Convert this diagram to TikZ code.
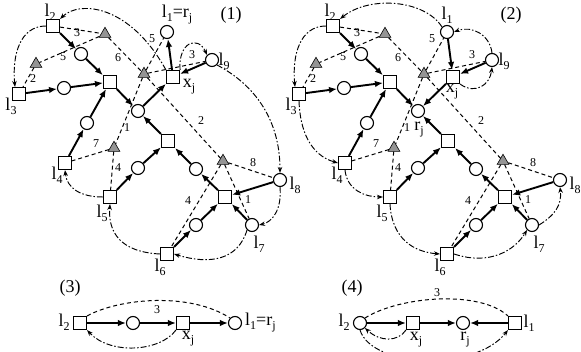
\documentclass[tikz,border=0pt]{standalone}
\usepackage{fontspec}
\setmainfont{Liberation Serif}
\usetikzlibrary{arrows.meta,shapes.geometric}
\newcommand\sbs[1]{\raisebox{-4pt}{\fontsize{12}{12}\selectfont #1}}
\tikzset{
 sq/.style={draw, rectangle, minimum size=13pt, inner sep=0pt, line width=1.1pt, fill=white},
 ci/.style={draw, circle, minimum size=13pt, inner sep=0pt, line width=1.1pt, fill=white},
 tri/.style={draw, regular polygon, regular polygon sides=3, minimum size=13.5pt, inner sep=0pt, fill=black!42, line width=0.6pt},
 thk/.style={line width=1.9pt, -{Latex[length=8pt,width=6.5pt]}},
 dsh/.style={line width=1pt, dash pattern=on 4pt off 3pt},
 dd/.style={line width=0.95pt, dash pattern=on 6pt off 2pt on 1.5pt off 2pt, -{Stealth[length=6pt,width=4.5pt]}},
 lab/.style={font=\fontsize{18}{18}\selectfont, inner sep=0pt},
 num/.style={font=\fontsize{12}{12}\selectfont, inner sep=0pt},
}
\newcommand\commonpart[1]{%
 \node[sq] (#1l2) at (53,26) {};
 \node[ci] (#1c1) at (81,54) {};
 \node[sq] (#1S0) at (110,82) {};
 \node[sq] (#1l3) at (19,94) {};
 \node[ci] (#1c2) at (64,88) {};
 \node[sq] (#1l4) at (65,163) {};
 \node[ci] (#1c3) at (87,123) {};
 \node[ci] (#1c4) at (138,111) {};
 \node[sq] (#1xj) at (173,77) {};
 \node[ci] (#1l1) at (167,32) {};
 \node[ci] (#1l9) at (212,60) {};
 \node[ci] (#1c5) at (138,168) {};
 \node[sq] (#1l5) at (110,197) {};
 \node[sq] (#1S1) at (168,141) {};
 \node[ci] (#1c6) at (196,169) {};
 \node[sq] (#1S2) at (225,197) {};
 \node[ci] (#1c7) at (196,225) {};
 \node[sq] (#1l6) at (167,254) {};
 \node[ci] (#1l7) at (252,225) {};
 \node[ci] (#1l8) at (280,180) {};
 \node[tri] (#1Ta) at (105,34) {};
 \node[tri] (#1Tb) at (36,64) {};
 \node[tri] (#1Tc) at (144,74) {};
 \node[tri] (#1Td) at (114,148) {};
 \node[tri] (#1Te) at (223,161) {};
 \draw[dsh] (#1l2) -- (#1Ta);
 \draw[dsh] (#1Ta) -- (#1Tb);
 \draw[dsh] (#1Tb) -- (#1l3);
 \draw[dsh] (#1Ta) -- (#1Tc);
 \draw[dsh] (#1Tc) -- (#1l1);
 \draw[dsh] (#1Tc) -- (#1l9);
 \draw[dsh] (#1Tc) -- (#1Td);
 \draw[dsh] (#1Tc) -- (#1Te);
 \draw[dsh] (#1Td) -- (#1l4);
 \draw[dsh] (#1Td) -- (#1l5);
 \draw[dsh] (#1Te) -- (#1l8);
 \draw[dsh] (#1Te) -- (#1l6);
 \draw[dsh] (#1Te) -- (#1l7);
 \draw[thk] (#1l2) -- (#1c1);
 \draw[thk] (#1c1) -- (#1S0);
 \draw[thk] (#1l3) -- (#1c2);
 \draw[thk] (#1c2) -- (#1S0);
 \draw[thk] (#1l4) -- (#1c3);
 \draw[thk] (#1c3) -- (#1S0);
 \draw[thk] (#1S0) -- (#1c4);
 \draw[thk] (#1l9) -- (#1xj);
 \draw[thk] (#1l5) -- (#1c5);
 \draw[thk] (#1c5) -- (#1S1);
 \draw[thk] (#1S1) -- (#1c4);
 \draw[thk] (#1S2) -- (#1c6);
 \draw[thk] (#1c6) -- (#1S1);
 \draw[thk] (#1c7) -- (#1S2);
 \draw[thk] (#1l6) -- (#1c7);
 \draw[thk] (#1l7) -- (#1S2);
 \draw[thk] (#1l8) -- (#1S2);
 \node[num] (#1n1) at (77,33) {3};
 \node[num] (#1n2) at (63,57) {5};
 \node[num] (#1n3) at (118,58) {6};
 \node[num] (#1n4) at (33,79) {2};
 \node[num] (#1n5) at (152,39) {5};
 \node[num] (#1n6) at (192,55) {3};
 \node[num] (#1n7) at (127,128) {1};
 \node[num] (#1n8) at (201,121) {2};
 \node[num] (#1n9) at (96,144) {7};
 \node[num] (#1n10) at (118,168) {4};
 \node[num] (#1n11) at (253,163) {8};
 \node[num] (#1n12) at (188,201) {4};
 \node[num] (#1n13) at (248,200) {1};
 \node[lab] (#1t2) at (50,12) {l\sbs{2}};
 \node[lab] (#1t3) at (11,106) {l\sbs{3}};
 \node[lab] (#1t4) at (57,175) {l\sbs{4}};
 \node[lab] (#1t5) at (102,213) {l\sbs{5}};
 \node[lab] (#1t6) at (160,267) {l\sbs{6}};
 \node[lab] (#1t7) at (259,244) {l\sbs{7}};
 \node[lab] (#1t8) at (295,185) {l\sbs{8}};
 \node[lab] (#1t9) at (224,61) {l\sbs{9}};
}
\begin{document}
\begin{tikzpicture}[x=1pt,y=-1pt]
\useasboundingbox (0,0) rectangle (581,352);
% ---------- (1)
\commonpart{A}
\draw[thk] (Ac4) -- (Axj);
\draw[thk] (Axj) -- (Al1);
\node[lab] (Atxj) at (189,87) {x\sbs{j}};
\node[lab] (Atl1) at (177,15) {l\sbs{1}=r\sbs{j}};
\node[lab] (Atit) at (231,15) {(1)};
\draw[dd] (Axj.north west) .. controls (130,5) and (80,0) .. (Al2.north east);
\draw[dd] (Al2.west) .. controls (20,26) and (12,55) .. ([xshift=-4]Al3.north);
\draw[dd] (Axj.north east) .. controls (178,42) and (198,35) .. (Al9.north west);
\draw[dd] (Al9.south east) .. controls (255,85) and (280,120) .. (Al8.north);
\draw[dd] (Al8.south) .. controls (282,210) and (272,222) .. (Al7.east);
\draw[dd] (Al7.south west) .. controls (238,260) and (210,265) .. (Al6.east);
\draw[dd] (Al6.west) .. controls (120,252) and (108,232) .. (Al5.south);
\draw[dd] (Al5.west) .. controls (80,197) and (67,188) .. (Al4.south);
% ---------- (2)
\begin{scope}[xshift=280pt]
\commonpart{B}
\draw[thk] (Bxj) -- (Bc4);
\draw[thk] (Bl1) -- (Bxj);
\node[lab] (Btxj) at (172,92) {x\sbs{j}};
\node[lab] (Btl1) at (167,15) {l\sbs{1}};
\node[lab] (Btrj) at (139,130) {r\sbs{j}};
\node[lab] (Btit) at (231,15) {(2)};
\end{scope}
\draw[dd] (Bl1.north west) .. controls (425,0) and (370,-5) .. (Bl2.north east);
\draw[dd] (Bl2.west) .. controls (300,26) and (292,55) .. ([xshift=-4]Bl3.north);
\draw[dd] (Bl3.south) .. controls (300,130) and (310,155) .. (Bl4.west);
\draw[dd] (Bl4.south) .. controls (347,190) and (365,197) .. (Bl5.west);
\draw[dd] (Bl5.south) .. controls (392,240) and (415,252) .. (Bl6.west);
\draw[dd] (Bl6.east) .. controls (490,266) and (515,250) .. (Bl7.south west);
\draw[dd] (Bl7.east) .. controls (555,215) and (562,205) .. (Bl8.south);
\draw[dd] (Bxj.south east) .. controls (475,95) and (490,85) .. (Bl9.south);
\draw[dd] (Bl9.north) .. controls (490,35) and (472,25) .. (Bl1.east);
% ---------- (3)
\node[sq] (Cl2) at (80,323) {};
\node[ci] (Cc) at (133,323) {};
\node[sq] (Cxj) at (183,323) {};
\node[ci] (Cl1) at (235,323) {};
\draw[thk] (Cl2) -- (Cc);
\draw[thk] (Cc) -- (Cxj);
\draw[thk] (Cxj) -- (Cl1);
\draw[dsh] (Cl2.north east) .. controls (120,298) and (190,292) .. (Cl1.north west);
\draw[dd] (Cxj.south west) .. controls (160,352) and (110,355) .. (Cl2.south east);
\node[num] (Cn) at (157,310) {3};
\node[lab] (Ctit) at (70,288) {(3)};
\node[lab] (Ctl2) at (64,322) {l\sbs{2}};
\node[lab] (Ctxj) at (188,339) {x\sbs{j}};
\node[lab, anchor=west] (Ctl1) at (245,323) {l\sbs{1}=r\sbs{j}};
% ---------- (4)
\node[ci] (Dl2) at (360,323) {};
\node[sq] (Dxj) at (413,323) {};
\node[ci] (Drj) at (463,323) {};
\node[sq] (Dl1) at (515,323) {};
\draw[thk] (Dl2) -- (Dxj);
\draw[thk] (Dxj) -- (Drj);
\draw[thk] (Dl1) -- (Drj);
\draw[dsh] (Dl2.north east) .. controls (400,296) and (480,290) .. (Dl1.north west);
\draw[dd] (Dxj.south west) .. controls (398,342) and (380,342) .. (Dl2.south east);
\draw[dd] (Dl2.south) .. controls (372,368) and (475,372) .. (Dl1.south west);
\node[num] (Dn) at (437,293) {3};
\node[lab] (Dtit) at (352,288) {(4)};
\node[lab] (Dtl2) at (344,322) {l\sbs{2}};
\node[lab] (Dtxj) at (416,340) {x\sbs{j}};
\node[lab] (Dtrj) at (465,340) {r\sbs{j}};
\node[lab] (Dtl1) at (529,323) {l\sbs{1}};
\end{tikzpicture}
\end{document}
